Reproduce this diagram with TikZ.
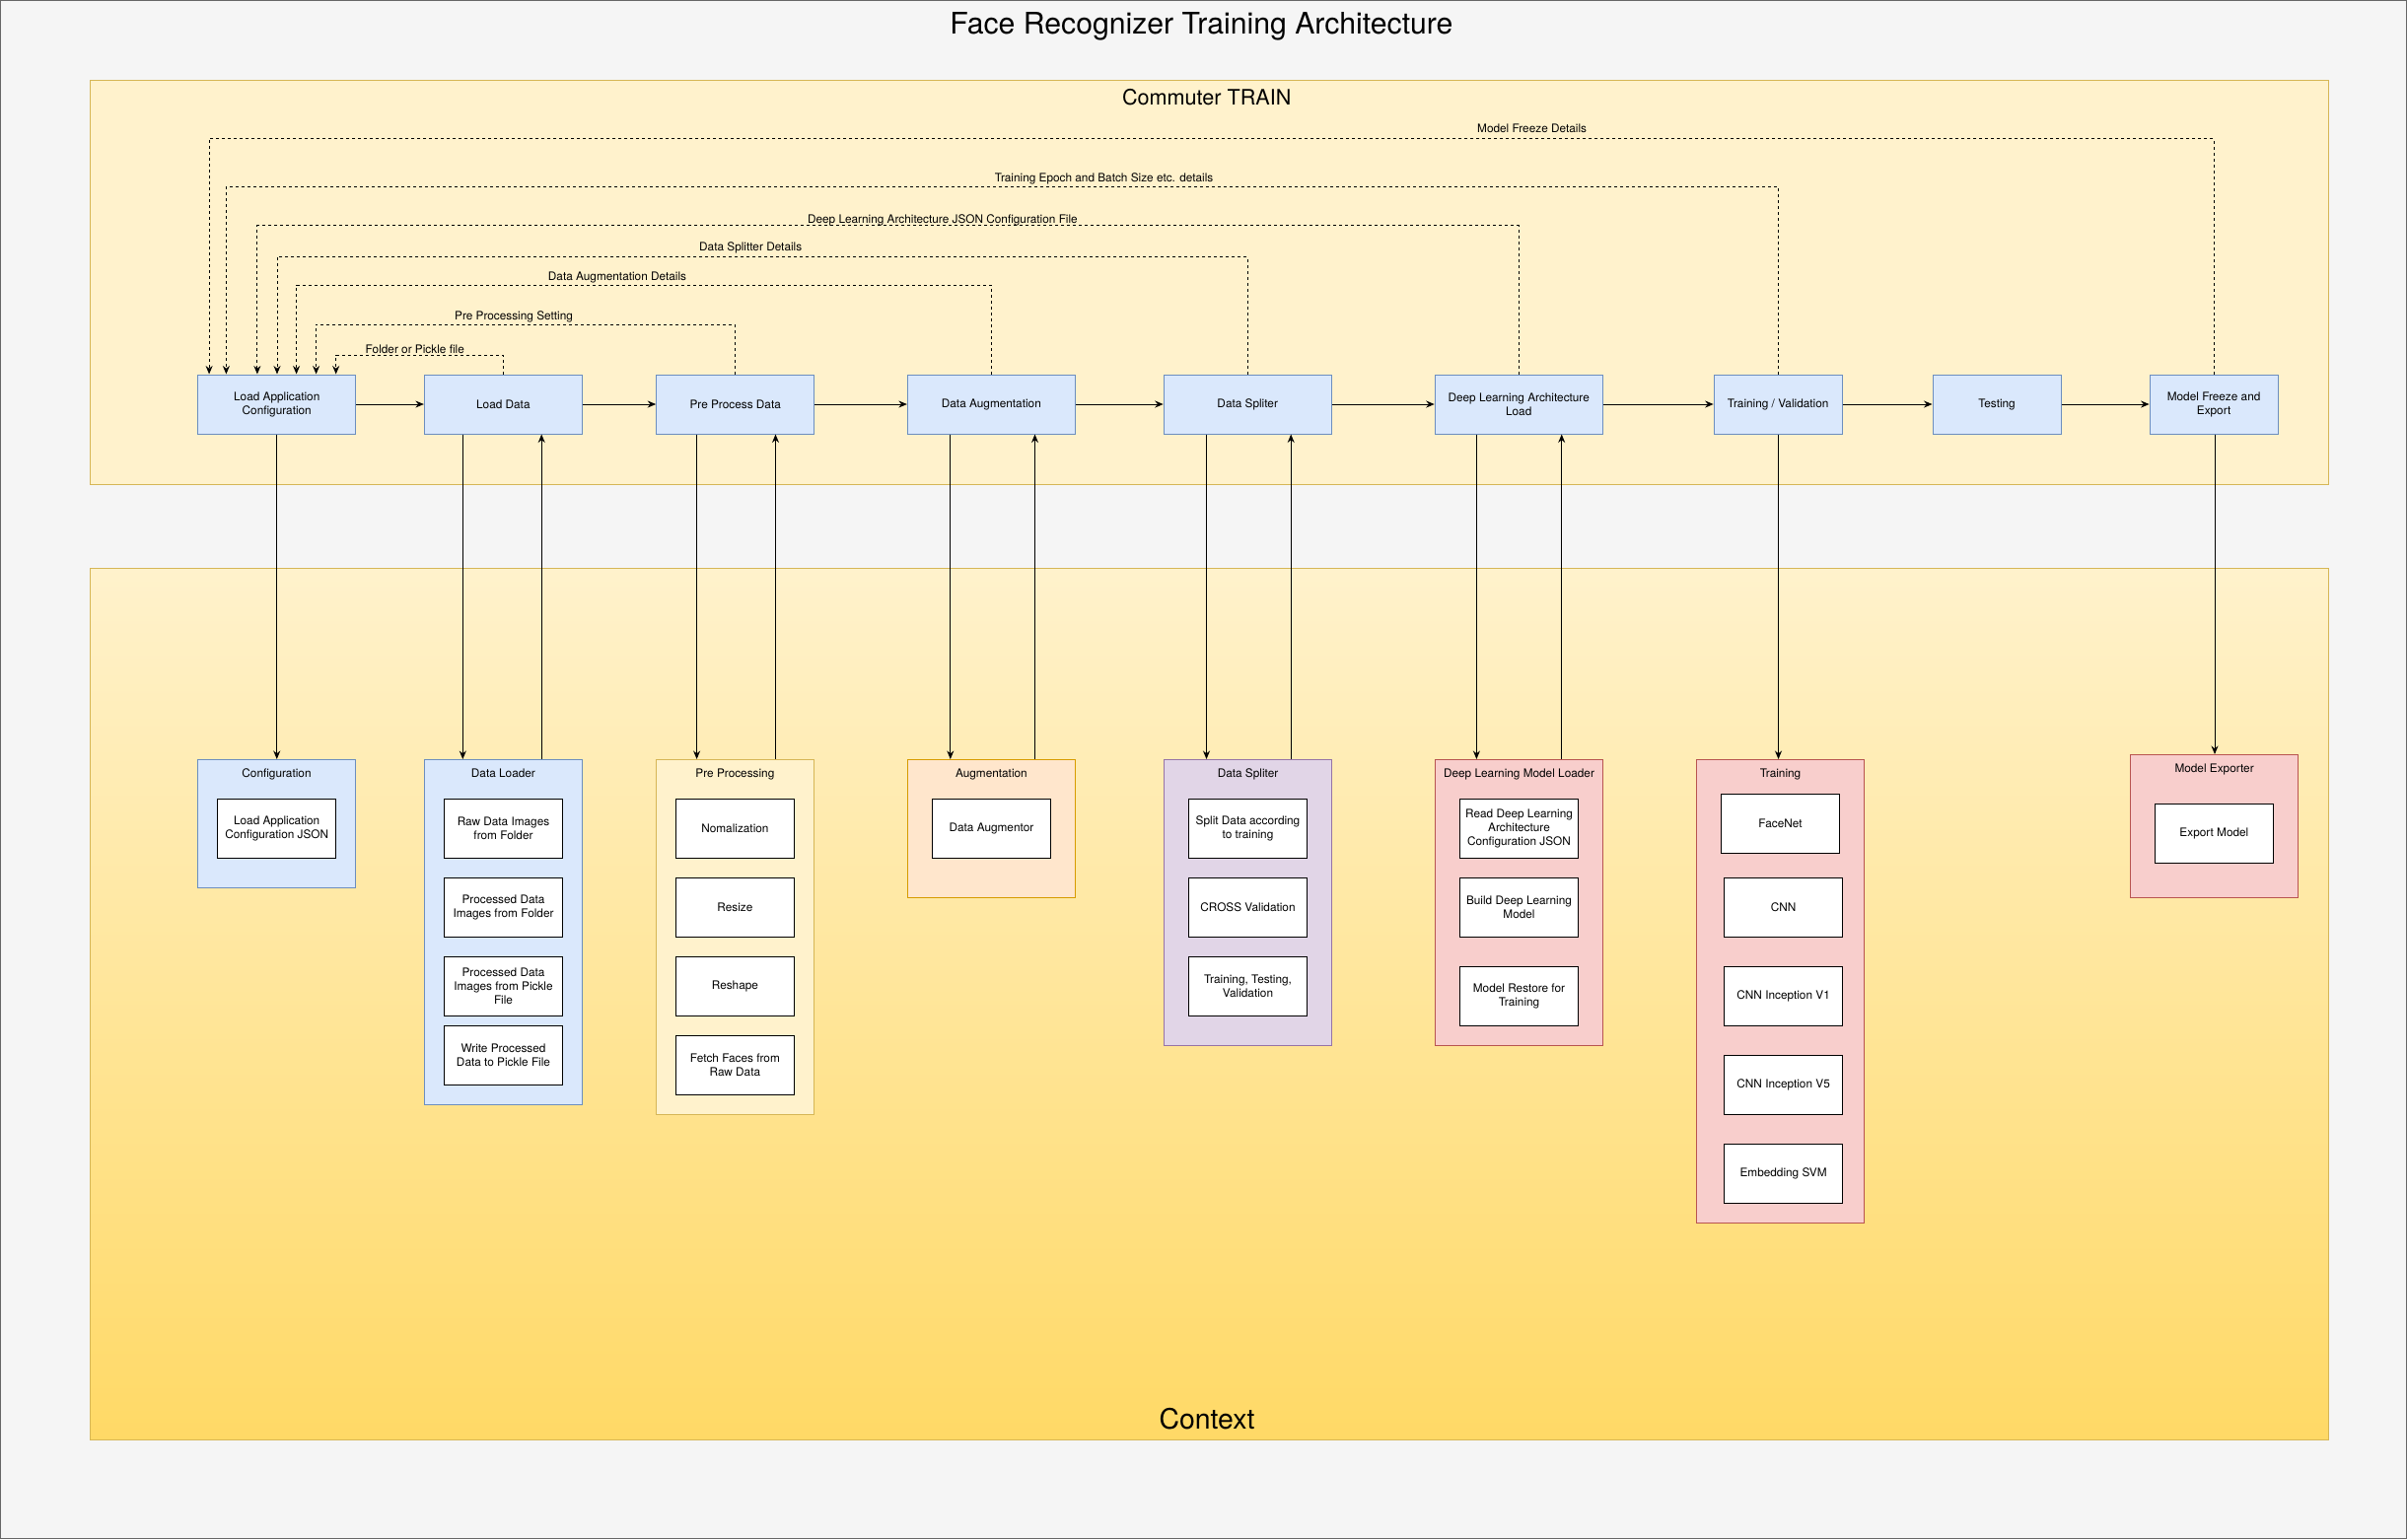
\documentclass[tikz,border=0pt]{standalone}
\usepackage{fontspec}
\setmainfont{TeX Gyre Heros}
\usetikzlibrary{arrows.meta}

\definecolor{bluefill}{HTML}{DAE8FC}
\definecolor{bluedraw}{HTML}{6C8EBF}
\definecolor{yelfill}{HTML}{FFF2CC}
\definecolor{yeldraw}{HTML}{D6B656}
\definecolor{yeldeep}{HTML}{FFD966}
\definecolor{orfill}{HTML}{FFE6CC}
\definecolor{ordraw}{HTML}{D79B00}
\definecolor{purfill}{HTML}{E1D5E7}
\definecolor{purdraw}{HTML}{9673A6}
\definecolor{redfill}{HTML}{F8CECC}
\definecolor{reddraw}{HTML}{B85450}
\definecolor{pagebg}{HTML}{F5F5F5}
\definecolor{pageline}{HTML}{666666}

\tikzset{
  bluebox/.style={draw=bluedraw,fill=bluefill},
  yelbox/.style={draw=yeldraw,fill=yelfill},
  orbox/.style={draw=ordraw,fill=orfill},
  purbox/.style={draw=purdraw,fill=purfill},
  redbox/.style={draw=reddraw,fill=redfill},
  stage/.style={bluebox,minimum height=60pt,inner sep=2pt,align=center},
  grp/.style={anchor=north,inner sep=0pt,minimum width=170pt},
  item/.style={draw,fill=white,minimum width=120pt,minimum height=60pt,inner sep=2pt,align=center},
  fb/.style={->,dash pattern=on 3pt off 3pt},
  lbl/.style={anchor=base,inner sep=0pt},
}

\begin{document}
\begin{tikzpicture}[x=1pt,y=-1pt,>={Stealth[length=8.5pt,width=7pt]},line width=1pt,
    font=\fontsize{11.8}{14}\selectfont]
  \useasboundingbox (0,0) rectangle (2441,1561);
  \draw[draw=pageline,fill=pagebg] (0.5,0.5) rectangle (2440.5,1560.5);

  % title and the two regions
  \node[lbl,font=\fontsize{30.2}{34}\selectfont] (title) at (1218.4,34.3) {Face Recognizer Training Architecture};
  \node[yelbox,anchor=north west,minimum width=2270pt,minimum height=410pt,inner sep=0pt] (train) at (90.5,80.5) {};
  \node[lbl,font=\fontsize{21.6}{25}\selectfont] (traint) at (1223.7,106) {Commuter TRAIN};
  \node[draw=yeldraw,top color=yelfill,bottom color=yeldeep,anchor=north west,minimum width=2270pt,minimum height=884pt,inner sep=0pt] (ctx) at (90.5,576) {};
  \node[lbl,font=\fontsize{28.4}{32}\selectfont] (ctxt) at (1224,1449) {Context};

  % pipeline stages
  \node[stage,minimum width=160pt] (lac) at (280.75,410) {Load Application\\Configuration};
  \node[stage,minimum width=160pt] (ld) at (510.35,410) {Load Data};
  \node[stage,minimum width=160pt] (ppd) at (745.7,410) {Pre Process Data};
  \node[stage,minimum width=170pt] (da) at (1005.35,410) {Data Augmentation};
  \node[stage,minimum width=170pt] (ds) at (1265.2,410) {Data Spliter};
  \node[stage,minimum width=170pt] (dla) at (1540.2,410) {Deep Learning Architecture\\Load};
  \node[stage,minimum width=130pt] (tv) at (1803.15,410) {Training / Validation};
  \node[stage,minimum width=130pt] (tst) at (2025,410) {Testing};
  \node[stage,minimum width=130pt] (mfe) at (2245.1,410) {Model Freeze and\\Export};

  \draw[->] (lac) -- (ld);
  \draw[->] (ld) -- (ppd);
  \draw[->] (ppd) -- (da);
  \draw[->] (da) -- (ds);
  \draw[->] (ds) -- (dla);
  \draw[->] (dla) -- (tv);
  \draw[->] (tv) -- (tst);
  \draw[->] (tst) -- (mfe);

  % settings read back from the configuration
  \draw[fb] (mfe.north) -- (mfe.north |- 0,140.3) -| (lac.north -| 212.1,0);
  \draw[fb] (tv.north) -- (tv.north |- 0,189) -| (lac.north -| 229.4,0);
  \draw[fb] (dla.north) -- (dla.north |- 0,228.7) -| (lac.north -| 260.9,0);
  \draw[fb] (ds.north) -- (ds.north |- 0,260.3) -| (lac.north -| 281,0);
  \draw[fb] (da.north) -- (da.north |- 0,289.3) -| (lac.north -| 300.6,0);
  \draw[fb] (ppd.north) -- (ppd.north |- 0,329) -| (lac.north -| 320.6,0);
  \draw[fb] (ld.north) -- (ld.north |- 0,360.3) -| (lac.north -| 340.7,0);
  \node[lbl] (lmf) at (1553.6,134) {Model Freeze Details};
  \node[lbl] (lte) at (1119.6,184) {Training Epoch and Batch Size etc. details};
  \node[lbl] (ldl) at (955.9,226) {Deep Learning Architecture JSON Configuration File};
  \node[lbl] (lds) at (761.2,254) {Data Splitter Details};
  \node[lbl] (lda) at (626,284.7) {Data Augmentation Details};
  \node[lbl] (lpp) at (521,324) {Pre Processing Setting};
  \node[lbl] (lfp) at (420.8,358) {Folder or Pickle file};

  % context groups
  \node[grp,bluebox,minimum width=160pt,minimum height=130pt] (cfg) at (280.5,770) {};
  \node[lbl] (cfgt) at (280.5,788) {Configuration};
  \node[item] (cfg1) at (280.7,840) {Load Application\\Configuration JSON};

  \node[grp,bluebox,minimum width=160pt,minimum height=350pt] (dl) at (510.4,770) {};
  \node[lbl] (dlt) at (510.4,788) {Data Loader};
  \node[item] (dl1) at (510.5,840) {Raw Data Images\\from Folder};
  \node[item] (dl2) at (510.5,920) {Processed Data\\Images from Folder};
  \node[item] (dl3) at (510.5,1000) {Processed Data\\Images from Pickle\\File};
  \node[item] (dl4) at (510.5,1070) {Write Processed\\Data to Pickle File};

  \node[grp,yelbox,minimum width=160pt,minimum height=360pt] (pp) at (745.4,770) {};
  \node[lbl] (ppt) at (745.4,788) {Pre Processing};
  \node[item] (pp1) at (745.4,840) {Nomalization};
  \node[item] (pp2) at (745.4,920) {Resize};
  \node[item] (pp3) at (745.4,1000) {Reshape};
  \node[item] (pp4) at (745.4,1080) {Fetch Faces from\\Raw Data};

  \node[grp,orbox,minimum height=140pt] (aug) at (1005.4,770) {};
  \node[lbl] (augt) at (1005.4,788) {Augmentation};
  \node[item] (aug1) at (1005.4,840) {Data Augmentor};

  \node[grp,purbox,minimum height=290pt] (spl) at (1265.5,770) {};
  \node[lbl] (splt) at (1265.5,788) {Data Spliter};
  \node[item] (spl1) at (1265.5,840) {Split Data according\\to training};
  \node[item] (spl2) at (1265.5,920) {CROSS Validation};
  \node[item] (spl3) at (1265.5,1000) {Training, Testing,\\Validation};

  \node[grp,redbox,minimum height=290pt] (dlm) at (1540.5,770) {};
  \node[lbl] (dlmt) at (1540.5,788) {Deep Learning Model Loader};
  \node[item] (dlm1) at (1540.5,840) {Read Deep Learning\\Architecture\\Configuration JSON};
  \node[item] (dlm2) at (1540.5,920) {Build Deep Learning\\Model};
  \node[item] (dlm3) at (1540.5,1010) {Model Restore for\\Training};

  \node[grp,redbox,minimum height=470pt] (trn) at (1805.5,770) {};
  \node[lbl] (trnt) at (1805.5,788) {Training};
  \node[item] (trn1) at (1805.5,835) {FaceNet};
  \node[item] (trn2) at (1808.6,920) {CNN};
  \node[item] (trn3) at (1808.6,1010) {CNN Inception V1};
  \node[item] (trn4) at (1808.6,1100) {CNN Inception V5};
  \node[item] (trn5) at (1808.6,1190) {Embedding SVM};

  \node[grp,redbox,minimum height=145pt] (exp) at (2245.6,765) {};
  \node[lbl] (expt) at (2245.6,783) {Model Exporter};
  \node[item] (exp1) at (2245.4,845) {Export Model};

  % stage <-> group links
  \draw[->] (lac.south) -- (lac.south |- cfg.north);
  \draw[->] (ld.south -| 469.3,0) -- (dl.north -| 469.3,0);
  \draw[->] (dl.north -| 549.2,0) -- (ld.south -| 549.2,0);
  \draw[->] (ppd.south -| 706.6,0) -- (pp.north -| 706.6,0);
  \draw[->] (pp.north -| 786.5,0) -- (ppd.south -| 786.5,0);
  \draw[->] (da.south -| 963.8,0) -- (aug.north -| 963.8,0);
  \draw[->] (aug.north -| 1049.5,0) -- (da.south -| 1049.5,0);
  \draw[->] (ds.south -| 1223.5,0) -- (spl.north -| 1223.5,0);
  \draw[->] (spl.north -| 1309.2,0) -- (ds.south -| 1309.2,0);
  \draw[->] (dla.south -| 1497.4,0) -- (dlm.north -| 1497.4,0);
  \draw[->] (dlm.north -| 1583.7,0) -- (dla.south -| 1583.7,0);
  \draw[->] (tv.south -| 1803.5,0) -- (trn.north -| 1803.5,0);
  \draw[->] (mfe.south -| 2246,0) -- (exp.north -| 2246,0);
\end{tikzpicture}
\end{document}
